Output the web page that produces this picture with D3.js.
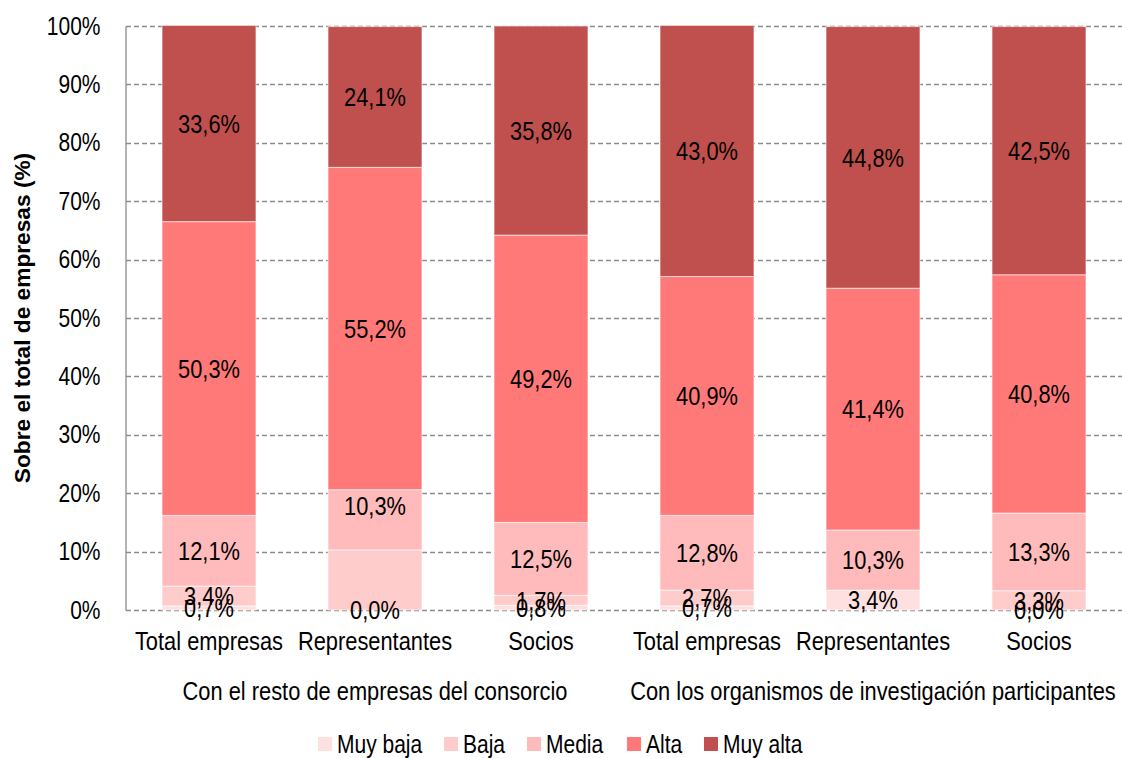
<!DOCTYPE html>
<html>
<head>
<meta charset="utf-8">
<script src="https://cdn.jsdelivr.net/npm/d3@7"></script>
<style>
	body { margin: 0; background: #fff; }
	svg text { font-family: "Liberation Sans Narrow", "Arial Narrow", "Liberation Sans", Arial, sans-serif; fill: #000; }
</style>
</head>
<body>
<div id="graphic"></div>
<script>
// categories (two groups of three bars)
const groups = ['Con el resto de empresas del consorcio', 'Con los organismos de investigación participantes'];
const subCats = ['Total empresas', 'Representantes', 'Socios'];
const series = ['Muy baja', 'Baja', 'Media', 'Alta', 'Muy alta'];
const colours = ['#ffe0e0', '#ffcccc', '#ffbbbb', '#ff7979', '#c0504d'];

// values in %, one array per series, bars in order (group 1 x3, group 2 x3)
const muyBaja = [0.7, 0.0, 0.8, 0.7, 3.4, 0.0];
const baja    = [3.4, 10.3, 1.7, 2.7, 0.0, 3.3];
const media   = [12.1, 10.3, 12.5, 12.8, 10.3, 13.3];
const alta    = [50.3, 55.2, 49.2, 40.9, 41.4, 40.8];
const muyAlta = [33.6, 24.1, 35.8, 43.0, 44.8, 42.5];

// labels that are not shown in the original: [bar, series]
const hiddenLabels = [[1, 1], [4, 1]];

const yTicks = [0, 10, 20, 30, 40, 50, 60, 70, 80, 90, 100];

const width = 1122, height = 758;
const margin = { top: 26, right: 0, bottom: 148, left: 126 };
const squeeze = 0.84; // the original uses a narrow face
const fontSize = 26;

const svg = d3.select('#graphic').append('svg')
	.attr('width', width)
	.attr('height', height);

const bars = [];
groups.forEach((g, gi) => subCats.forEach((s, si) => bars.push({ key: gi + '-' + si, group: g, cat: s })));

const values = [muyBaja, baja, media, alta, muyAlta];
const table = bars.map((b, i) => {
	const row = { key: b.key };
	series.forEach((s, k) => row[s] = values[k][i]);
	return row;
});
const stacked = d3.stack().keys(series)(table);

const x = d3.scaleBand()
	.domain(bars.map(d => d.key))
	.range([margin.left, width - margin.right])
	.paddingInner(0.434)
	.paddingOuter(0.217);

const y = d3.scaleLinear()
	.domain([0, 100])
	.range([height - margin.bottom, margin.top]);

// gridlines
svg.append('g')
	.selectAll('line')
	.data(yTicks)
	.join('line')
	.attr('x1', margin.left)
	.attr('x2', width)
	.attr('y1', d => Math.round(y(d)) + 0.5)
	.attr('y2', d => Math.round(y(d)) + 0.5)
	.attr('stroke', '#8c8c8c')
	.attr('stroke-width', 1.3)
	.attr('stroke-dasharray', '5,3');

// y axis
const yAxis = svg.append('g')
	.attr('transform', 'translate(' + (margin.left - 0.5) + ',0)')
	.call(d3.axisLeft(y).tickValues(yTicks).tickSize(0).tickPadding(25).tickFormat(d => d + '%'));
yAxis.select('.domain').attr('stroke', '#8c8c8c').attr('stroke-width', 1.3);
yAxis.selectAll('text')
	.attr('class', 'narrow')
	.style('font-size', (fontSize - 1) + 'px')
	.style('font-family', null);

// bars
svg.append('g')
	.selectAll('g')
	.data(stacked)
	.join('g')
	.attr('fill', (d, i) => colours[i])
	.selectAll('rect')
	.data(d => d)
	.join('rect')
	.attr('x', d => x(d.data.key))
	.attr('y', d => y(d[1]))
	.attr('width', x.bandwidth())
	.attr('height', d => y(d[0]) - y(d[1]))
	.attr('stroke', 'rgba(255,255,255,0.6)')
	.attr('stroke-width', 1);

// data labels
const labelData = [];
stacked.forEach((s, k) => s.forEach((d, i) => {
	if (hiddenLabels.some(h => h[0] === i && h[1] === k)) return;
	labelData.push({ key: d.data.key, series: k, mid: (d[0] + d[1]) / 2, value: values[k][i] });
}));

svg.append('g')
	.selectAll('text')
	.data(labelData)
	.join('text')
	.attr('class', 'narrow')
	.attr('x', d => x(d.key) + x.bandwidth() / 2)
	// the media label of the second bar sits a little higher in the original
	.attr('y', d => y(d.mid) + (d.key === '0-1' && d.series === 2 ? -14 : 0))
	.attr('dy', '0.36em')
	.attr('text-anchor', 'middle')
	.style('font-size', fontSize + 'px')
	.text(d => d3.format('.1f')(d.value).replace('.', ',') + '%');

// category labels
svg.append('g')
	.selectAll('text')
	.data(bars)
	.join('text')
	.attr('class', 'narrow')
	.attr('x', d => x(d.key) + x.bandwidth() / 2)
	.attr('y', 641)
	.attr('dy', '0.36em')
	.attr('text-anchor', 'middle')
	.style('font-size', fontSize + 'px')
	.text(d => d.cat);

// group labels
svg.append('g')
	.selectAll('text')
	.data(groups)
	.join('text')
	.attr('class', 'narrow')
	.attr('x', (d, i) => {
		const first = x(i + '-0'), last = x(i + '-2') + x.bandwidth();
		return (first + last) / 2;
	})
	.attr('y', 691)
	.attr('dy', '0.36em')
	.attr('text-anchor', 'middle')
	.style('font-size', fontSize + 'px')
	.text(d => d);

// y axis title
svg.append('text')
	.attr('transform', 'translate(22,' + y(50) + ') rotate(-90)')
	.attr('dy', '0.36em')
	.attr('text-anchor', 'middle')
	.style('font-family', '"Liberation Sans", Arial, sans-serif')
	.style('font-weight', 'bold')
	.style('font-size', '22.7px')
	.text('Sobre el total de empresas (%)');

// legend
const legendX = [318, 444, 527, 627, 704];
const legend = svg.append('g')
	.selectAll('g')
	.data(series)
	.join('g')
	.attr('transform', (d, i) => 'translate(' + legendX[i] + ',744)');
legend.append('rect')
	.attr('x', 0)
	.attr('y', -7)
	.attr('width', 14)
	.attr('height', 14)
	.attr('fill', (d, i) => colours[i]);
legend.append('text')
	.attr('class', 'narrow')
	.attr('x', 19)
	.attr('dy', '0.36em')
	.style('font-size', (fontSize - 1) + 'px')
	.text(d => d);

// squeeze the text horizontally to mimic the narrow face
svg.selectAll('text.narrow').each(function () {
	const w = this.getComputedTextLength();
	d3.select(this)
		.attr('textLength', w * squeeze)
		.attr('lengthAdjust', 'spacingAndGlyphs');
});
</script>
</body>
</html>
